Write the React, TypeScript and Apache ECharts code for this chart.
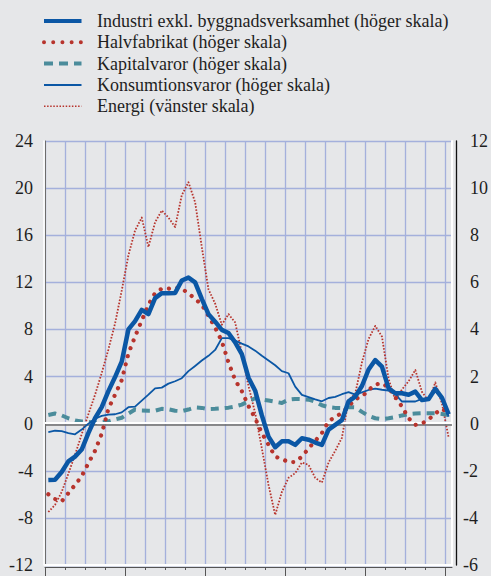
import React, { useEffect, useRef } from "react";
import * as echarts from "echarts";

// Months (mid-month positions on a 61-month axis)
const MONTHS: number[] = [
  0.5, 1.5, 2.5, 3.5, 4.5, 5.5, 6.5, 7.5, 8.5, 9.5, 10.5, 11.5, 12.5, 13.5, 14.5, 15.5,
  16.5, 17.5, 18.5, 19.5, 20.5, 21.5, 22.5, 23.5, 24.5, 25.5, 26.5, 27.5, 28.5, 29.5, 30.5,
  31.5, 32.5, 33.5, 34.5, 35.5, 36.5, 37.5, 38.5, 39.5, 40.5, 41.5, 42.5, 43.5, 44.5, 45.5,
  46.5, 47.5, 48.5, 49.5, 50.5, 51.5, 52.5, 53.5, 54.5, 55.5, 56.5, 57.5, 58.5, 59.5, 60.5,
];

const QUARTER_TICKS: number[] = [0, 3, 6, 9, 12, 15, 18, 21, 24, 27, 30, 33, 36, 39, 42, 45, 48, 51, 54, 57, 60];
const YEAR_TICKS: number[] = [0, 12, 24, 36, 48, 60];

// Right scale
const industri: number[] = [
  -2.39, -2.38, -2.05, -1.6, -1.4, -1.1, -0.4, 0.23, 0.7, 1.38, 1.98, 2.63, 4.0, 4.35, 4.83, 4.65,
  5.33, 5.54, 5.54, 5.55, 6.08, 6.2, 6.0, 5.3, 4.65, 4.33, 3.98, 3.85, 3.45, 2.95, 1.95, 1.4,
  0.35, -0.55, -1.0, -0.75, -0.75, -0.9, -0.62, -0.68, -0.8, -0.9, -0.25, -0.05, 0.15, 0.95,
  1.15, 1.6, 2.3, 2.7, 2.42, 1.5, 1.29, 1.29, 1.23, 1.36, 1.0, 1.05, 1.48, 1.1, 0.4,
];
const halvfabrikat: number[] = [
  -3.0, -3.2, -3.3, -2.95, -2.6, -2.23, -1.68, -1.15, -0.43, 0.63, 1.23, 1.85, 2.98, 3.7, 4.38,
  5.05, 5.55, 5.73, 5.73, 5.78, 5.73, 5.53, 5.3, 5.05, 4.58, 4.08, 3.5, 2.6, 1.85, 1.38, 0.75,
  0.23, -0.4, -0.9, -1.4, -1.5, -1.63, -1.63, -1.4, -1.05, -0.73, -0.4, 0.1, 0.29, 0.45, 0.73,
  1.05, 1.14, 1.43, 1.66, 1.72, 1.53, 1.13, 0.73, 0.23, -0.05, 0.0, 0.18, 0.43, 0.63, 0.45,
];
const kapitalvaror: number[] = [
  0.37, 0.43, 0.35, 0.23, 0.14, 0.09, 0.08, 0.04, 0.05, 0.1, 0.18, 0.25, 0.43, 0.6, 0.56, 0.55,
  0.55, 0.63, 0.61, 0.55, 0.53, 0.6, 0.69, 0.67, 0.62, 0.63, 0.65, 0.68, 0.73, 0.81, 0.95, 1.08,
  1.03, 0.98, 0.93, 0.88, 1.02, 1.05, 1.04, 1.02, 0.93, 0.78, 0.7, 0.67, 0.66, 0.7, 0.69, 0.5,
  0.33, 0.23, 0.19, 0.23, 0.28, 0.35, 0.41, 0.43, 0.44, 0.44, 0.44, 0.41, 0.37,
];
const konsumtionsvaror: number[] = [
  -0.36, -0.3, -0.32, -0.4, -0.45, -0.25, 0.0, 0.21, 0.33, 0.38, 0.4, 0.48, 0.7, 0.72, 0.98,
  1.23, 1.5, 1.53, 1.7, 1.8, 1.93, 2.23, 2.45, 2.68, 2.88, 3.13, 3.63, 3.63, 3.53, 3.4, 3.28,
  3.1, 2.88, 2.68, 2.48, 2.23, 2.14, 1.57, 1.22, 1.13, 1.03, 0.95, 1.09, 1.14, 1.25, 1.34, 1.23,
  1.33, 1.43, 1.49, 1.44, 1.4, 1.25, 0.94, 0.94, 0.94, 1.05, 1.05, 1.38, 1.05, 0.3,
];
// Left scale
const energi: number[] = [
  -7.5, -6.9, -5.8, -4.25, -2.65, -0.9, 0.8, 2.45, 4.3, 6.3, 8.5, 11.3, 14.3, 16.4, 17.5, 15.0,
  17.1, 18.1, 17.5, 16.7, 19.4, 20.5, 18.8, 15.0, 11.4, 10.2, 8.4, 9.3, 8.6, 6.0, 3.2, 0.9, -2.1,
  -5.2, -7.75, -5.8, -4.6, -4.2, -3.3, -3.5, -4.6, -5.0, -3.3, -2.3, -1.2, 2.0, 2.55, 5.2, 7.2,
  8.3, 7.4, 3.8, 2.0, 2.9, 3.6, 4.56, 2.7, 1.9, 3.5, 1.7, -1.2,
];

const LEFT_MIN = -12, LEFT_MAX = 24, LEFT_STEP = 4;
const RIGHT_MIN = -6, RIGHT_MAX = 12, RIGHT_STEP = 2;

const NAMES = [
  "Industri exkl. byggnadsverksamhet (höger skala)",
  "Halvfabrikat (höger skala)",
  "Kapitalvaror (höger skala)",
  "Konsumtionsvaror (höger skala)",
  "Energi (vänster skala)",
];

const BLUE = "#0b57a5";
const RED = "#b7342d";
const TEAL = "#4b8c9b";
const GRID = "#a4b0dc";
const BG = "#e6e7e9";
const TXT = "#1e1e1e";
const FONT = '"Liberation Serif", "Times New Roman", serif';

const STYLES = [
  { color: BLUE, width: 4.5, dash: null as any, cap: "butt", legendWidth: 4, legendDash: null as any },
  { color: RED, width: 4.2, dash: [0.01, 8.4], cap: "round", legendWidth: 4, legendDash: [0.01, 9.2] },
  { color: TEAL, width: 4, dash: [8, 6], cap: "butt", legendWidth: 4, legendDash: [9, 6] },
  { color: BLUE, width: 1.8, dash: null as any, cap: "butt", legendWidth: 2, legendDash: null as any },
  { color: RED, width: 1.8, dash: [1.6, 1.6], cap: "butt", legendWidth: 1.5, legendDash: [1.5, 1.6] },
];

const SERIES_DATA = [industri, halvfabrikat, kapitalvaror, konsumtionsvaror, energi];
const SERIES_AXIS = [1, 1, 1, 1, 0];
const DRAW_ORDER = [4, 2, 3, 1, 0];

export default function App() {
  const ref = useRef<HTMLDivElement>(null);

  useEffect(() => {
    if (!ref.current) return;
    const chart = echarts.init(ref.current, null, { renderer: "svg" });

    const labelStyle = { color: TXT, fontSize: 18, fontFamily: FONT };

    const legendGraphics = NAMES.map((name, k) => {
      const y = 21 + k * 21.3;
      const s = STYLES[k];
      return {
        type: "group",
        children: [
          {
            type: "line",
            shape: { x1: 44, y1: y, x2: 81.5, y2: y },
            style: {
              stroke: s.color,
              lineWidth: s.legendWidth,
              lineDash: s.legendDash || undefined,
              lineCap: s.cap,
            },
          },
          {
            type: "text",
            style: {
              text: name,
              x: 97,
              y: y,
              fill: TXT,
              fontSize: 18,
              fontFamily: FONT,
              verticalAlign: "middle",
            },
          },
        ],
      };
    });

    const series: any[] = [
      {
        type: "line",
        name: "zero",
        data: [],
        z: 1,
        xAxisIndex: 0,
        yAxisIndex: 0,
        markLine: {
          silent: true,
          symbol: "none",
          label: { show: false },
          data: [
            { yAxis: -0.07, lineStyle: { color: "#6a6a6a", width: 1.5, type: "solid" } },
            { yAxis: 0.08, lineStyle: { color: "#ffffff", width: 2, type: "solid" } },
          ],
        },
      },
    ];
    DRAW_ORDER.forEach((k, order) => {
      const s = STYLES[k];
      series.push({
        type: "line",
        name: NAMES[k],
        xAxisIndex: 0,
        yAxisIndex: SERIES_AXIS[k],
        data: MONTHS.map((m, i) => [m, SERIES_DATA[k][i]]),
        showSymbol: false,
        symbol: "none",
        z: 3 + order,
        lineStyle: {
          color: s.color,
          width: s.width,
          type: s.dash || "solid",
          cap: s.cap,
          join: "round",
        },
      });
    });

    const option: any = {
      animation: false,
      backgroundColor: BG,
      grid: { left: 45, right: 32, top: 141, bottom: 11, containLabel: false },
      xAxis: [
        {
          type: "value",
          min: 0,
          max: 61,
          position: "bottom",
          axisLine: { show: true, onZero: false, lineStyle: { color: "#ffffff", width: 2 } },
          axisTick: { show: false, customValues: QUARTER_TICKS },
          axisLabel: { show: false },
          splitLine: { show: true, lineStyle: { color: GRID, width: 1.3 } },
        },
        {
          type: "value",
          min: 0,
          max: 61,
          position: "bottom",
          offset: 2,
          axisLine: { show: true, onZero: false, lineStyle: { color: "#555555", width: 1 } },
          axisTick: { show: true, length: 3, customValues: QUARTER_TICKS, lineStyle: { color: "#555555", width: 1 } },
          axisLabel: { show: false },
          splitLine: { show: false },
        },
        {
          type: "value",
          min: 0,
          max: 61,
          position: "bottom",
          offset: 2,
          axisLine: { show: false, onZero: false },
          axisTick: { show: true, length: 10, customValues: YEAR_TICKS, lineStyle: { color: "#555555", width: 1 } },
          axisLabel: { show: false },
          splitLine: { show: false },
        },
      ],
      yAxis: [
        {
          type: "value",
          position: "left",
          min: LEFT_MIN,
          max: LEFT_MAX,
          interval: LEFT_STEP,
          axisLine: { show: true, onZero: false, lineStyle: { color: "#6d6d6d", width: 1 } },
          axisTick: { show: false },
          axisLabel: { ...labelStyle, margin: 12 },
          splitLine: { show: true, lineStyle: { color: GRID, width: 1.3 } },
        },
        {
          type: "value",
          position: "right",
          offset: 4,
          min: RIGHT_MIN,
          max: RIGHT_MAX,
          interval: RIGHT_STEP,
          axisLine: { show: true, onZero: false, lineStyle: { color: "#111111", width: 1.3 } },
          axisTick: { show: false },
          axisLabel: {
            ...labelStyle,
            margin: 14,
            align: "left",
            formatter: (v: number) => (v >= 0 ? String(v) : ""),
          },
          splitLine: { show: false },
        },
        {
          type: "value",
          position: "right",
          offset: 0,
          min: RIGHT_MIN,
          max: RIGHT_MAX,
          interval: RIGHT_STEP,
          axisLine: { show: true, onZero: false, lineStyle: { color: "#ffffff", width: 2 } },
          axisTick: { show: false },
          axisLabel: {
            ...labelStyle,
            margin: 11,
            align: "left",
            formatter: (v: number) => (v < 0 ? String(v) : ""),
          },
          splitLine: { show: false },
        },
        {
          type: "value",
          position: "left",
          offset: 1.5,
          min: LEFT_MIN,
          max: LEFT_MAX,
          interval: LEFT_STEP,
          axisLine: { show: true, onZero: false, lineStyle: { color: "#ffffff", width: 1.5 } },
          axisTick: { show: false },
          axisLabel: { show: false },
          splitLine: { show: false },
        },
      ],
      graphic: legendGraphics,
      series,
    };

    chart.setOption(option);
    return () => chart.dispose();
  }, []);

  return (
    <div
      style={{ position: "fixed", left: 0, top: 0, width: 491, height: 576, background: BG }}
    >
      <div ref={ref} style={{ width: 491, height: 576 }} />
    </div>
  );
}
